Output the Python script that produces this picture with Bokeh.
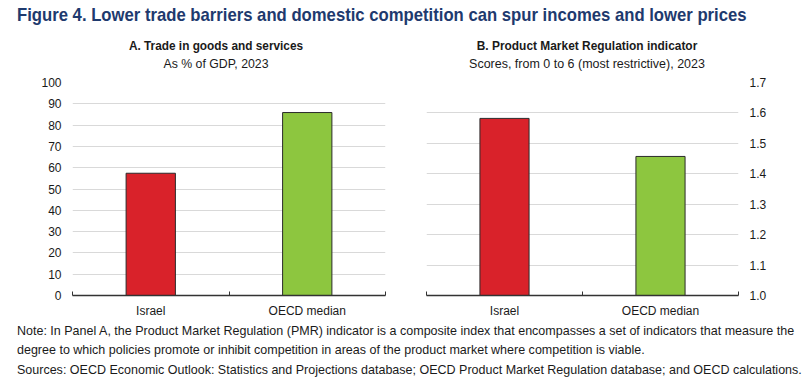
from bokeh.plotting import figure
from bokeh.models import Div, Range1d, FixedTicker, NumeralTickFormatter
from bokeh.layouts import column, row
from bokeh.embed import file_html
from bokeh.resources import INLINE

# ---------------- data ----------------
categories = ["Israel", "OECD median"]
trade_values = [57.4, 85.9]          # Panel A, % of GDP
pmr_values = [1.582, 1.457]          # Panel B, PMR score
bar_colors = ["#d9222a", "#8dc63f"]
trade_ticks = [0, 10, 20, 30, 40, 50, 60, 70, 80, 90, 100]
pmr_ticks = [1.0, 1.1, 1.2, 1.3, 1.4, 1.5, 1.6, 1.7]

main_title = "Figure 4. Lower trade barriers and domestic competition can spur incomes and lower prices"
panel_a_title = "A. Trade in goods and services"
panel_a_sub = "As % of GDP, 2023"
panel_b_title = "B. Product Market Regulation indicator"
panel_b_sub = "Scores, from 0 to 6 (most restrictive), 2023"
note_lines = [
    "Note: In Panel A, the Product Market Regulation (PMR) indicator is a composite index that encompasses a set of indicators that measure the",
    "degree to which policies promote or inhibit competition in areas of the product market where competition is viable.",
    "Sources: OECD Economic Outlook: Statistics and Projections database; OECD Product Market Regulation database; and OECD calculations.",
]

FONT = "'Liberation Sans Narrow', 'Arial Narrow', 'Liberation Sans', sans-serif"
TXT = "#1a1a1a"

xs = [i + 0.5 for i in range(len(categories))]
bounds = list(range(len(categories) + 1))
overrides = {x: c for x, c in zip(xs, categories)}


def style(p, yticks):
    p.outline_line_color = None
    p.background_fill_color = "white"
    p.border_fill_color = "white"
    p.xgrid.visible = False
    p.ygrid.grid_line_color = "#d9d9d9"
    p.ygrid.grid_line_width = 1
    p.yaxis.ticker = FixedTicker(ticks=yticks)
    p.yaxis.axis_line_color = None
    p.yaxis.major_tick_line_color = None
    p.yaxis.minor_tick_line_color = None
    p.yaxis.major_label_standoff = 5
    p.yaxis.major_label_text_font = FONT
    p.yaxis.major_label_text_font_size = "12px"
    p.yaxis.major_label_text_color = TXT
    p.xaxis.ticker = FixedTicker(ticks=xs, minor_ticks=bounds)
    p.xaxis.major_label_overrides = overrides
    p.xaxis.major_tick_line_color = None
    p.xaxis.minor_tick_in = 4
    p.xaxis.minor_tick_out = 0
    p.xaxis.minor_tick_line_color = "#333333"
    p.xaxis.minor_tick_line_width = 1
    p.xaxis.axis_line_color = "#333333"
    p.xaxis.axis_line_width = 1.5
    p.xaxis.major_label_standoff = 2
    p.xaxis.major_label_text_font = FONT
    p.xaxis.major_label_text_font_size = "12px"
    p.xaxis.major_label_text_color = TXT


pa = figure(width=403, height=248, x_range=Range1d(0, len(categories)),
            y_range=Range1d(trade_ticks[0], trade_ticks[-1]),
            output_backend="svg", toolbar_location=None,
            min_border_left=72, min_border_right=18, min_border_top=10, min_border_bottom=24)
pa.vbar(x=xs, top=trade_values, bottom=trade_ticks[0], width=0.315,
        fill_color=bar_colors, line_color="#2b2b2b", line_width=1)
style(pa, trade_ticks)

pb = figure(width=403, height=248, x_range=Range1d(0, len(categories)),
            y_range=Range1d(pmr_ticks[0], pmr_ticks[-1]), y_axis_location="right",
            output_backend="svg", toolbar_location=None,
            min_border_left=23, min_border_right=68, min_border_top=10, min_border_bottom=24)
pb.vbar(x=xs, top=pmr_values, bottom=pmr_ticks[0], width=0.315,
        fill_color=bar_colors, line_color="#2b2b2b", line_width=1)
style(pb, pmr_ticks)
pb.yaxis.formatter = NumeralTickFormatter(format="0.0")


def absdiv(text, left, top, size, bold=False, color=TXT, width=None, center=False, sx=1.0):
    w = f"width:{width}px;" if width else ""
    al = "text-align:center;" if center else ""
    fw = "font-weight:bold;" if bold else ""
    origin = "center top" if center else "left top"
    return (f'<div style="position:absolute;left:{left}px;top:{top}px;{w}{al}{fw}'
            f'font-size:{size}px;line-height:{size}px;color:{color};white-space:nowrap;'
            f'transform:scaleX({sx});transform-origin:{origin};">{text}</div>')


head_html = ('<div style="position:relative;width:806px;height:72px;font-family:' + FONT + ';">'
             + absdiv(main_title, 17, 5, 19, bold=True, color="#1e3a6e", sx=0.878)
             + absdiv(panel_a_title, 216 - 200, 39, 13, bold=True, width=400, center=True, sx=0.91)
             + absdiv(panel_a_sub, 216 - 200, 57, 13, width=400, center=True, sx=0.945)
             + absdiv(panel_b_title, 587 - 200, 39, 13, bold=True, width=400, center=True, sx=0.917)
             + absdiv(panel_b_sub, 587 - 200, 57, 13, width=400, center=True, sx=0.96)
             + '</div>')
head = Div(text=head_html, width=806, height=72, margin=0)

note_html = '<div style="position:relative;width:806px;height:57px;font-family:' + FONT + ';">'
for i, line in enumerate(note_lines):
    note_html += absdiv(line, 17, 4 + i * 19.4, 13, sx=0.962)
note_html += '</div>'
notes = Div(text=note_html, width=806, height=57, margin=0)

layout = column(head, row(pa, pb, spacing=0), notes, spacing=0)

open("out.html", "w").write(file_html(layout, INLINE))
